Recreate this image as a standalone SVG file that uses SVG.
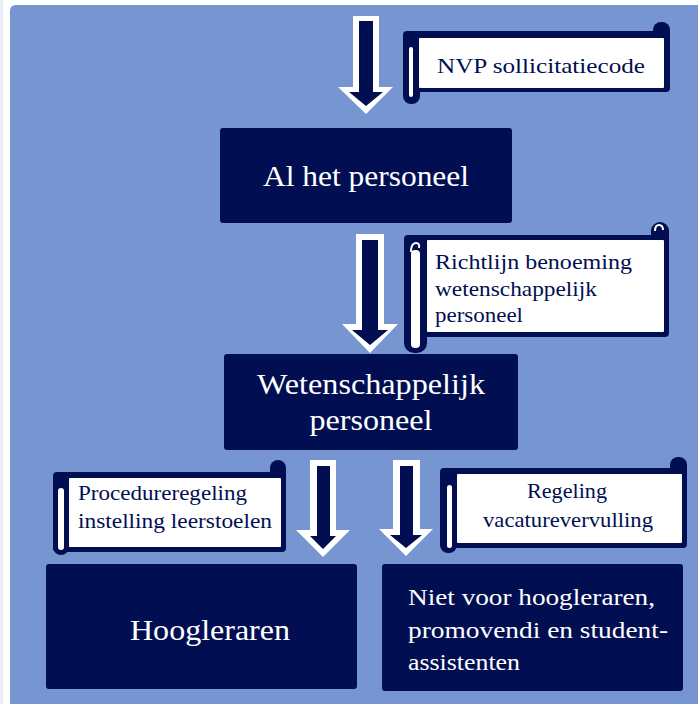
<svg xmlns="http://www.w3.org/2000/svg" width="698" height="704" viewBox="0 0 698 704">
<style>
.bg{fill:#7795d0}
.navy{fill:#010f52}
.wh{fill:#ffffff}
.box{fill:#010f52}
.bt{fill:#ffffff;font-family:"Liberation Serif","DejaVu Serif",serif;text-anchor:middle}
.st{fill:#010f52;font-family:"Liberation Serif","DejaVu Serif",serif;font-size:22px}
</style>
<rect x="0" y="0" width="698" height="704" fill="#ffffff"/>
<rect x="0" y="0" width="3" height="704" fill="#e9eef8"/>
<path class="bg" d="M10,11 Q10,5 16,5 L698,5 L698,704 L10,704 Z"/>

<g id="connectors">
  <g id="arrow1">
    <polygon class="wh" points="353,16 379,16 379,87 393,87 366,114 338,87 353,87"/>
    <polygon class="navy" points="359,21 373,21 373,92 383,92 366,106 349,92 359,92"/>
  </g>
  <g id="arrow2">
    <polygon class="wh" points="356,234 384,234 384,324 398,324 370,353 342,324 356,324"/>
    <polygon class="navy" points="362,240 378,240 378,330 388,330 370,345 352,330 362,330"/>
  </g>
  <g id="arrow3">
    <polygon class="wh" points="310,460 336,460 336,530 350,530 323,557 296,530 310,530"/>
    <polygon class="navy" points="317,466 330,466 330,536 336,536 323,549 310,536 317,536"/>
  </g>
  <g id="arrow4">
    <polygon class="wh" points="393,460 420,460 420,529 433,529 406,556 379,529 393,529"/>
    <polygon class="navy" points="400,466 413,466 413,535 422,535 406,548 390,535 400,535"/>
  </g>
</g>

<g id="scroll-nvp">
  <rect class="navy" x="403" y="31" width="267" height="61" rx="4"/>
  <rect class="navy" x="653" y="22" width="17" height="22" rx="8"/>
  <rect class="navy" x="403" y="31" width="17" height="73" rx="8"/>
  <rect class="wh" x="419" y="38" width="245" height="50" rx="1"/>
  <rect class="wh" x="409" y="47" width="4" height="50" rx="2"/>
  <text class="st" x="437" y="73" textLength="208" lengthAdjust="spacingAndGlyphs">NVP sollicitatiecode</text>
</g>

<g id="node-al">
  <rect class="box" x="220" y="128" width="292" height="95" rx="3"/>
  <text class="bt" x="366" y="186" font-size="30" textLength="206" lengthAdjust="spacingAndGlyphs">Al het personeel</text>
</g>

<g id="scroll-richtlijn">
  <rect class="navy" x="404" y="235" width="265" height="102" rx="4"/>
  <rect class="navy" x="651" y="222" width="18" height="24" rx="9"/>
  <rect class="navy" x="404" y="235" width="23" height="118" rx="10"/>
  <rect class="wh" x="427" y="240" width="237" height="92" rx="1"/>
  <rect class="wh" x="411" y="250" width="9" height="98" rx="4"/>
  <path d="M411,252 Q411,243 416,243 Q420,243 419,248" fill="none" stroke="#ffffff" stroke-width="2"/>
  <path d="M655,231 Q655,225 659,225 Q663,225 663,230" fill="none" stroke="#ffffff" stroke-width="2"/>
  <text class="st" x="435" y="269" textLength="197" lengthAdjust="spacingAndGlyphs">Richtlijn benoeming</text>
  <text class="st" x="435" y="296" textLength="162" lengthAdjust="spacingAndGlyphs">wetenschappelijk</text>
  <text class="st" x="435" y="322" textLength="88" lengthAdjust="spacingAndGlyphs">personeel</text>
</g>

<g id="node-wp">
  <rect class="box" x="224" y="354" width="294" height="96" rx="3"/>
  <text class="bt" x="371" y="394" font-size="30" textLength="228" lengthAdjust="spacingAndGlyphs">Wetenschappelijk</text>
  <text class="bt" x="371" y="430" font-size="30" textLength="123" lengthAdjust="spacingAndGlyphs">personeel</text>
</g>

<g id="scroll-procedure">
  <rect class="navy" x="53" y="472" width="233" height="80" rx="4"/>
  <rect class="navy" x="270" y="460" width="16" height="22" rx="8"/>
  <rect class="navy" x="53" y="472" width="16" height="83" rx="8"/>
  <rect class="wh" x="69" y="478" width="212" height="69" rx="1"/>
  <rect class="wh" x="58" y="488" width="6" height="62" rx="3"/>
  <text class="st" x="78" y="500" textLength="169" lengthAdjust="spacingAndGlyphs">Procedureregeling</text>
  <text class="st" x="78" y="528" textLength="194" lengthAdjust="spacingAndGlyphs">instelling leerstoelen</text>
</g>

<g id="scroll-regeling">
  <rect class="navy" x="440" y="468" width="247" height="80" rx="4"/>
  <rect class="navy" x="670" y="457" width="17" height="22" rx="8"/>
  <rect class="navy" x="440" y="468" width="17" height="85" rx="8"/>
  <rect class="wh" x="457" y="474" width="225" height="69" rx="1"/>
  <rect class="wh" x="447" y="485" width="5" height="63" rx="2.5"/>
  <text class="st" x="527" y="498" textLength="80" lengthAdjust="spacingAndGlyphs">Regeling</text>
  <text class="st" x="483" y="527" textLength="170" lengthAdjust="spacingAndGlyphs">vacaturevervulling</text>
</g>

<g id="node-hoogleraren">
  <rect class="box" x="46" y="564" width="311" height="125" rx="3"/>
  <text class="bt" x="210" y="640" font-size="30" textLength="160" lengthAdjust="spacingAndGlyphs">Hoogleraren</text>
</g>

<g id="node-niet">
  <rect class="box" x="382" y="564" width="301" height="127" rx="3"/>
  <g fill="#ffffff" font-family="Liberation Serif, DejaVu Serif, serif" font-size="24">
    <text x="408" y="605" textLength="247" lengthAdjust="spacingAndGlyphs">Niet voor hoogleraren,</text>
    <text x="408" y="638" textLength="260" lengthAdjust="spacingAndGlyphs">promovendi en student-</text>
    <text x="408" y="670" textLength="112" lengthAdjust="spacingAndGlyphs">assistenten</text>
  </g>
</g>
</svg>
